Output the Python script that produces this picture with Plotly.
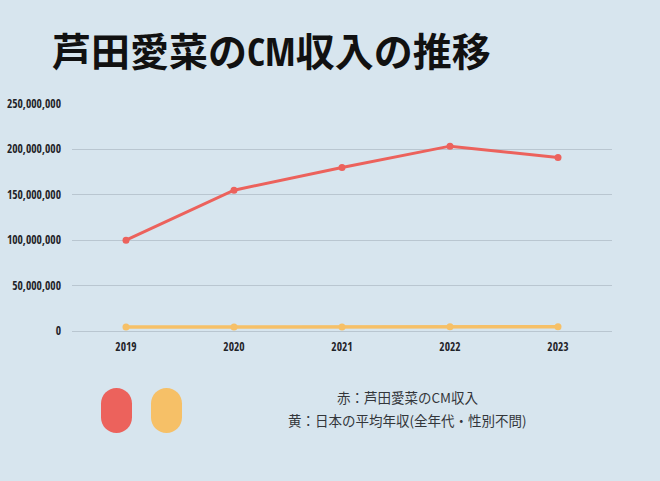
import plotly.graph_objects as go

years = ["2019", "2020", "2021", "2022", "2023"]
cm_income = [100_000_000, 155_000_000, 180_000_000, 203_500_000, 191_000_000]
avg_income = [4_360_000, 4_330_000, 4_430_000, 4_580_000, 4_600_000]
y_ticks = [0, 50_000_000, 100_000_000, 150_000_000, 200_000_000, 250_000_000]
y_tick_labels = ["0", "50,000,000", "100,000,000", "150,000,000", "200,000,000", "250,000,000"]

legend_lines = ["赤：芦田愛菜のCM収入", "黄：日本の平均年収(全年代・性別不問)"]

RED = "#ec625c"
YELLOW = "#f6c067"
BG = "#d7e5ee"
GRID = "#b9c6d0"
COND = "Open Sans Condensed"
TICKFONT = dict(family=COND, size=11.5, color="#1f2328", weight="bold")

W, H = 660, 481
L, R, T, B = 72, 48, 103, 150
pw, ph = W - L - R, H - T - B

def px_to_paper(x, y):
    return (x - L) / pw, (H - B - y) / ph

fig = go.Figure()
fig.add_trace(go.Scatter(x=years, y=avg_income, mode="lines+markers",
                         line=dict(color=YELLOW, width=3.5), marker=dict(size=7, color=YELLOW),
                         hoverinfo="skip", showlegend=False))
fig.add_trace(go.Scatter(x=years, y=cm_income, mode="lines+markers",
                         line=dict(color=RED, width=3), marker=dict(size=7, color=RED),
                         hoverinfo="skip", showlegend=False))

def pill_path(w, h):
    r = w / 2
    s = h / 2 - r
    k = 0.5523 * r
    return (f"M {-r} {-s} L {-r} {s} C {-r} {s+k} {-k} {s+r} 0 {s+r} "
            f"C {k} {s+r} {r} {s+k} {r} {s} L {r} {-s} "
            f"C {r} {-s-k} {k} {-s-r} 0 {-s-r} C {-k} {-s-r} {-r} {-s-k} {-r} {-s} Z")

for cx, col in [(116.5, RED), (166.5, YELLOW)]:
    ax, ay = px_to_paper(cx, 410.5)
    fig.add_shape(type="path", xref="paper", yref="paper", xsizemode="pixel", ysizemode="pixel",
                  xanchor=ax, yanchor=ay, path=pill_path(31, 45),
                  fillcolor=col, line=dict(width=0), layer="above")

lx, _ = px_to_paper(407.5, 0)
for text, py in zip(legend_lines, [397, 420]):
    _, ly = px_to_paper(0, py)
    fig.add_annotation(text=text, xref="paper", yref="paper", x=lx, y=ly,
                       xanchor="center", yanchor="middle", showarrow=False,
                       font=dict(family="Noto Sans CJK JP", size=13.5, color="#33363a"))

title_html = ("<b>芦田愛菜の<span style=\"font-family:'Open Sans Condensed'\">CM</span>収入の推移</b>")

fig.update_layout(
    width=W, height=H,
    margin=dict(l=L, r=R, t=T, b=B, autoexpand=False),
    paper_bgcolor=BG, plot_bgcolor=BG,
    title=dict(text=title_html, x=52 / W, xanchor="left", y=1 - 52 / H, yanchor="middle",
               font=dict(family="Noto Sans CJK JP", size=39, color="#111111")),
    xaxis=dict(type="category", range=[-0.5, 4.5], showgrid=False, showline=False, zeroline=False,
               automargin=False, tickfont=TICKFONT, ticks="", ticklabelstandoff=7),
    yaxis=dict(range=[0, 251_000_000], tickvals=y_ticks, ticktext=y_tick_labels, automargin=False,
               showgrid=True, gridcolor=GRID, gridwidth=1, zeroline=True, zerolinecolor=GRID,
               zerolinewidth=1, showline=False, tickfont=TICKFONT, ticks="", ticklabelstandoff=10),
)

fig.write_html("out.html")
